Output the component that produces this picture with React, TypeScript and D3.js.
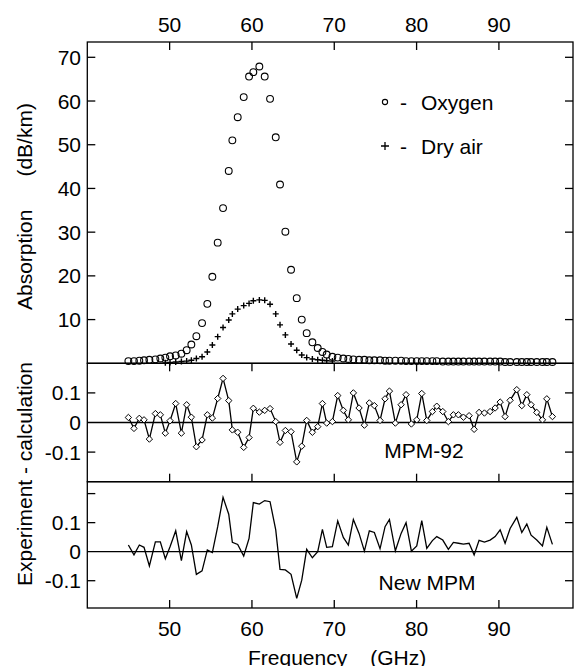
import React from "react";
import * as d3 from "d3";

// frequencies (GHz) of the measured points
const freq = [
  44.99, 45.67, 46.32, 46.89, 47.54, 48.27, 48.87, 49.48, 50.05, 50.74,
  51.43, 52.07, 52.64, 53.25, 53.94, 54.58, 55.19, 55.84, 56.49, 57.18,
  57.62, 58.27, 59.0, 59.65, 60.17, 60.9, 61.55, 62.2, 62.89, 63.41,
  64.06, 64.75, 65.44, 66.05, 66.65, 67.34, 67.99, 68.56, 69.08, 69.77,
  70.42, 71.1, 71.71, 72.32, 73.01, 73.66, 74.26, 74.87, 75.56, 76.17,
  76.7, 77.42, 78.12, 78.72, 79.37, 80.02, 80.63, 81.24, 81.92, 82.45,
  83.18, 83.86, 84.47, 85.08, 85.69, 86.38, 86.99, 87.59, 88.24, 88.93,
  89.54, 90.15, 90.75, 91.36, 92.17, 92.78, 93.39, 93.91, 94.6, 95.29,
  95.82, 96.5,
];

// absorption, dB/km
const oxygen = [
  0.5, 0.5, 0.6, 0.7, 0.8, 0.9, 1.1, 1.3, 1.6, 1.8,
  2.2, 3.0, 4.3, 6.2, 9.2, 13.6, 19.8, 27.6, 35.5, 44.0,
  51.0, 56.3, 60.9, 65.6, 66.6, 67.9, 65.6, 60.5, 51.7, 40.9,
  30.1, 21.4, 14.9, 10.0, 6.9, 4.8, 3.5, 2.6, 2.0, 1.5,
  1.3, 1.1, 1.0, 0.9, 0.8, 0.8, 0.7, 0.7, 0.7, 0.6,
  0.6, 0.6, 0.6, 0.5, 0.5, 0.5, 0.5, 0.5, 0.5, 0.5,
  0.4, 0.4, 0.4, 0.4, 0.4, 0.4, 0.4, 0.4, 0.4, 0.4,
  0.4, 0.4, 0.3, 0.3, 0.3, 0.3, 0.3, 0.3, 0.3, 0.3,
  0.3, 0.3,
];

// dry air only measured from freq[7] to freq[39]
const dryAirFirst = 7;
const dryAir = [
  0.1, 0.2, 0.3, 0.4, 0.5, 0.7, 1.1, 1.5, 2.6, 4.2,
  6.1, 8.2, 9.9, 11.3, 12.4, 13.2, 13.7, 14.3, 14.5, 14.4,
  13.5, 11.3, 8.8, 6.5, 4.4, 3.0, 1.9, 1.3, 1.0, 0.8,
  0.7, 0.6, 0.5,
];

// residuals, experiment - calculation
const mpm92 = [
  0.017, -0.02, 0.014, 0.009, -0.056, 0.03, 0.026, -0.036, 0.006, 0.064,
  -0.036, 0.06, 0.018, -0.082, -0.059, 0.026, 0.015, 0.081, 0.149, 0.074,
  -0.025, -0.033, -0.084, -0.051, 0.048, 0.035, 0.041, 0.047, 0.003, -0.067,
  -0.027, -0.031, -0.133, -0.08, 0.007, -0.033, -0.014, 0.064, -0.002, 0.003,
  0.091, 0.041, 0.009, 0.1, 0.049, -0.009, 0.066, 0.057, 0.007, 0.08,
  0.106, -0.002, 0.06, 0.094, -0.005, 0.009, 0.098, 0.007, 0.037, 0.055,
  0.037, 0.003, 0.026, 0.026, 0.018, 0.023, -0.023, 0.034, 0.032, 0.037,
  0.049, 0.069, 0.02, 0.075, 0.111, 0.057, 0.094, 0.06, 0.034, 0.009,
  0.08, 0.02,
];

const newMpm = [
  0.023, -0.011, 0.023, 0.015, -0.049, 0.034, 0.034, -0.024, 0.017, 0.072,
  -0.031, 0.069, 0.023, -0.078, -0.066, 0.006, -0.003, 0.086, 0.187, 0.129,
  0.032, 0.025, -0.015, 0.046, 0.169, 0.164, 0.176, 0.172, 0.075, -0.061,
  -0.063, -0.078, -0.161, -0.098, 0.008, -0.021, 0.0, 0.077, 0.015, 0.017,
  0.106, 0.049, 0.023, 0.111, 0.063, 0.002, 0.072, 0.066, 0.01, 0.086,
  0.111, 0.003, 0.063, 0.1, 0.002, 0.02, 0.107, 0.011, 0.038, 0.052,
  0.04, 0.008, 0.032, 0.029, 0.026, 0.029, -0.011, 0.039, 0.033, 0.04,
  0.052, 0.075, 0.029, 0.08, 0.118, 0.066, 0.095, 0.057, 0.04, 0.02,
  0.084, 0.025,
];

const xTicks = [50, 60, 70, 80, 90];
const absTicks = [10, 20, 30, 40, 50, 60, 70];
const midTicks = [-0.1, 0.1];
const botTicks = [-0.1, 0.1, 0.2];
const resLabels = [0.1, 0, -0.1];

const FONT = "'Liberation Sans', Arial, sans-serif";
const FS = 21;
const TL = 8; // tick length

const App = () => {
  const svgRef = React.useRef<SVGSVGElement>(null);

  React.useEffect(() => {
    const svg = d3.select(svgRef.current);
    svg.selectAll("*").remove();

    const left = 87.3, right = 573;
    const x = d3.scaleLinear().domain([40, 99]).range([left, right]);
    const yTop = d3.scaleLinear().domain([0, 73.5]).range([363.3, 42]);
    const yMid = d3.scaleLinear().domain([-0.2, 0.2]).range([481.7, 363.3]);
    const yBot = d3.scaleLinear().domain([-0.194, 0.241]).range([608, 481.7]);

    const g = svg.append("g").attr("stroke", "black").attr("stroke-width", 1.3).attr("fill", "none");

    // frames
    [[yTop(73.5), yTop(0)], [yMid(0.2), yMid(-0.2)], [yBot(0.241), yBot(-0.194)]].forEach(([t, b]) => {
      g.append("rect").attr("x", left).attr("y", t).attr("width", right - left).attr("height", b - t);
    });

    // x ticks
    xTicks.forEach(v => {
      const px = x(v);
      g.append("line").attr("x1", px).attr("x2", px).attr("y1", yTop(73.5)).attr("y2", yTop(73.5) + TL);
      g.append("line").attr("x1", px).attr("x2", px).attr("y1", yMid(0.2)).attr("y2", yMid(0.2) + TL);
      g.append("line").attr("x1", px).attr("x2", px).attr("y1", yMid(-0.2)).attr("y2", yMid(-0.2) - TL);
      g.append("line").attr("x1", px).attr("x2", px).attr("y1", yBot(-0.194)).attr("y2", yBot(-0.194) - TL);
    });

    // y ticks both sides
    const yTick = (py: number) => {
      g.append("line").attr("x1", left).attr("x2", left + TL).attr("y1", py).attr("y2", py);
      g.append("line").attr("x1", right).attr("x2", right - TL).attr("y1", py).attr("y2", py);
    };
    absTicks.forEach(v => yTick(yTop(v)));
    midTicks.forEach(v => yTick(yMid(v)));
    botTicks.forEach(v => yTick(yBot(v)));

    // zero lines
    g.append("line").attr("x1", left).attr("x2", right).attr("y1", yMid(0)).attr("y2", yMid(0));
    g.append("line").attr("x1", left).attr("x2", right).attr("y1", yBot(0)).attr("y2", yBot(0));

    const txt = svg.append("g").attr("font-family", FONT).attr("font-size", FS).attr("fill", "black");

    xTicks.forEach(v => {
      txt.append("text").attr("x", x(v)).attr("y", 32).attr("text-anchor", "middle").text(v);
      txt.append("text").attr("x", x(v)).attr("y", 636).attr("text-anchor", "middle").text(v);
    });
    absTicks.forEach(v => {
      txt.append("text").attr("x", 81).attr("y", yTop(v) + 7.5).attr("text-anchor", "end").text(v);
    });
    resLabels.forEach(v => {
      txt.append("text").attr("x", 81).attr("y", yMid(v) + 7.5).attr("text-anchor", "end").text(v);
      txt.append("text").attr("x", 81).attr("y", yBot(v) + 7.5).attr("text-anchor", "end").text(v);
    });

    // axis titles
    const ft = txt.append("text").attr("x", 248).attr("y", 665);
    ft.append("tspan").text("Frequency");
    ft.append("tspan").attr("dx", 23).text("(GHz)");

    const at = txt.append("text").attr("transform", "translate(32,310) rotate(-90)");
    at.append("tspan").text("Absorption");
    at.append("tspan").attr("dx", 33).text("(dB/km)");

    txt.append("text").attr("transform", "translate(32,474) rotate(-90)")
      .attr("text-anchor", "middle").text("Experiment - calculation");

    txt.append("text").attr("x", 424).attr("y", 458).attr("text-anchor", "middle").text("MPM-92");
    txt.append("text").attr("x", 427).attr("y", 590).attr("text-anchor", "middle").text("New MPM");

    // legend
    const legY1 = 102, legY2 = 146;
    g.append("circle").attr("cx", 385).attr("cy", legY1).attr("r", 2.6).attr("stroke-width", 1.1);
    txt.append("text").attr("x", 400).attr("y", legY1 + 7.5).text("-");
    txt.append("text").attr("x", 421).attr("y", legY1 + 7.5).text("Oxygen");
    g.append("path").attr("d", `M${381},${legY2}h8M${385},${legY2 - 4}v8`).attr("stroke-width", 1.3);
    txt.append("text").attr("x", 400).attr("y", legY2 + 7.5).text("-");
    txt.append("text").attr("x", 421).attr("y", legY2 + 7.5).text("Dry air");

    // oxygen circles
    const pts = svg.append("g").attr("stroke", "black").attr("fill", "none").attr("stroke-width", 1.1);
    oxygen.forEach((v, i) => {
      pts.append("circle").attr("cx", x(freq[i])).attr("cy", yTop(v)).attr("r", 3.4);
    });
    // dry air crosses
    dryAir.forEach((v, i) => {
      const px = x(freq[i + dryAirFirst]), py = yTop(v);
      pts.append("path").attr("d", `M${px - 3},${py}h6M${px},${py - 3}v6`).attr("stroke-width", 1.4);
    });

    // MPM-92 residuals
    const lineMid = d3.line<number>().x((_, i) => x(freq[i])).y(v => yMid(v));
    pts.append("path").attr("d", lineMid(mpm92)).attr("stroke-width", 1.3);
    mpm92.forEach((v, i) => {
      const px = x(freq[i]), py = yMid(v);
      pts.append("path").attr("d", `M${px},${py - 3.2}L${px + 3.2},${py}L${px},${py + 3.2}L${px - 3.2},${py}Z`)
        .attr("fill", "white").attr("stroke-width", 1);
    });

    // New MPM residuals
    const lineBot = d3.line<number>().x((_, i) => x(freq[i])).y(v => yBot(v));
    pts.append("path").attr("d", lineBot(newMpm)).attr("stroke-width", 1.3);
  }, []);

  return (
    <svg ref={svgRef} width={575} height={666}
      style={{ position: "absolute", left: 0, top: 0, background: "white" }} />
  );
};

export default App;
